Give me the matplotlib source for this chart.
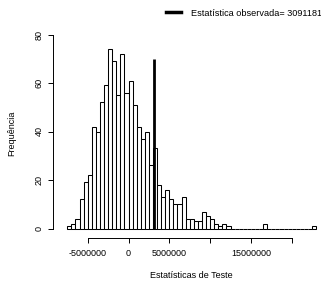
import numpy as np
import matplotlib
matplotlib.use("Agg")
import matplotlib.pyplot as plt
from matplotlib.lines import Line2D

plt.rcParams['font.family'] = ['Liberation Sans', 'DejaVu Sans']

# histogram of the test statistics (bins of 500000 starting at -7500000)
bin_start = -7500000
bin_width = 500000
counts = [1, 2, 4, 12, 19, 22, 42, 40, 52, 59,
          74, 69, 55, 72, 56, 61, 51, 42, 37, 40,
          26, 33, 18, 13, 16, 12, 10, 10, 13, 4,
          4, 3, 3, 7, 5, 4, 2, 1, 2, 1,
          0, 0, 0, 0, 0, 0, 0, 0, 2, 0,
          0, 0, 0, 0, 0, 0, 0, 0, 0, 0,
          1]
observed = 3091181
observed_height = 70
x_ticks = [-5000000, 0, 5000000, 10000000, 15000000, 20000000]
x_ticklabels = ['-5000000', '0', '5000000', '', '15000000', '']
y_ticks = [0, 20, 40, 60, 80]

W, H = 321, 289
fig = plt.figure(figsize=(W / 100, H / 100), dpi=100)

# pixel layout of the plot region
xlim = (-8500000, 23500000)
ylim = (-3, 82)
px_per_x = 8.16e-6
x0_px = 128.5
left_px = x0_px + xlim[0] * px_per_x
right_px = x0_px + xlim[1] * px_per_x
px_per_y = 2.425
y0_px = 228.5
bottom_px = y0_px - ylim[0] * px_per_y
top_px = y0_px - ylim[1] * px_per_y
ax = fig.add_axes([left_px / W, 1 - bottom_px / H,
                   (right_px - left_px) / W, (bottom_px - top_px) / H])

edges = bin_start + bin_width * np.arange(len(counts) + 1)
ax.bar(edges[:-1], counts, width=bin_width, align='edge',
       facecolor='white', edgecolor='black', linewidth=0.75)
ax.vlines(observed, 0, observed_height, color='black', linewidth=2.0)

ax.set_xlim(xlim)
ax.set_ylim(ylim)

for s in ['top', 'right']:
    ax.spines[s].set_visible(False)
ax.spines['left'].set_position(('outward', 4.2))
ax.spines['bottom'].set_position(('outward', 1.4))
ax.spines['left'].set_bounds(0, 80)
ax.spines['bottom'].set_bounds(-5000000, 20000000)
for s in ['left', 'bottom']:
    ax.spines[s].set_linewidth(0.7)

ax.set_xticks(x_ticks)
ax.set_xticklabels(x_ticklabels)
ax.set_yticks(y_ticks)
ax.set_yticklabels([str(v) for v in y_ticks], rotation=90, va='center')
ax.tick_params(axis='both', length=3.6, width=0.7, labelsize=6.5)
ax.tick_params(axis='x', pad=4.5)
ax.tick_params(axis='y', pad=3.5)

fig.text(191 / W, 1 - 276 / H, 'Estatísticas de Teste', ha='center', va='center', fontsize=6.5)
fig.text(12 / W, 1 - 133 / H, 'Frequência', ha='center', va='center', rotation=90, fontsize=6.5)

handle = Line2D([], [], color='black', linewidth=2.5)
ax.legend([handle], ['Estatística observada= ' + str(observed)],
          loc='center left', bbox_to_anchor=(166 / W, 1 - 13 / H),
          bbox_transform=fig.transFigure, frameon=False, fontsize=6.6,
          borderpad=0, borderaxespad=0, handlelength=1.6, handletextpad=1.1)

fig.savefig('out.png', dpi=100)
